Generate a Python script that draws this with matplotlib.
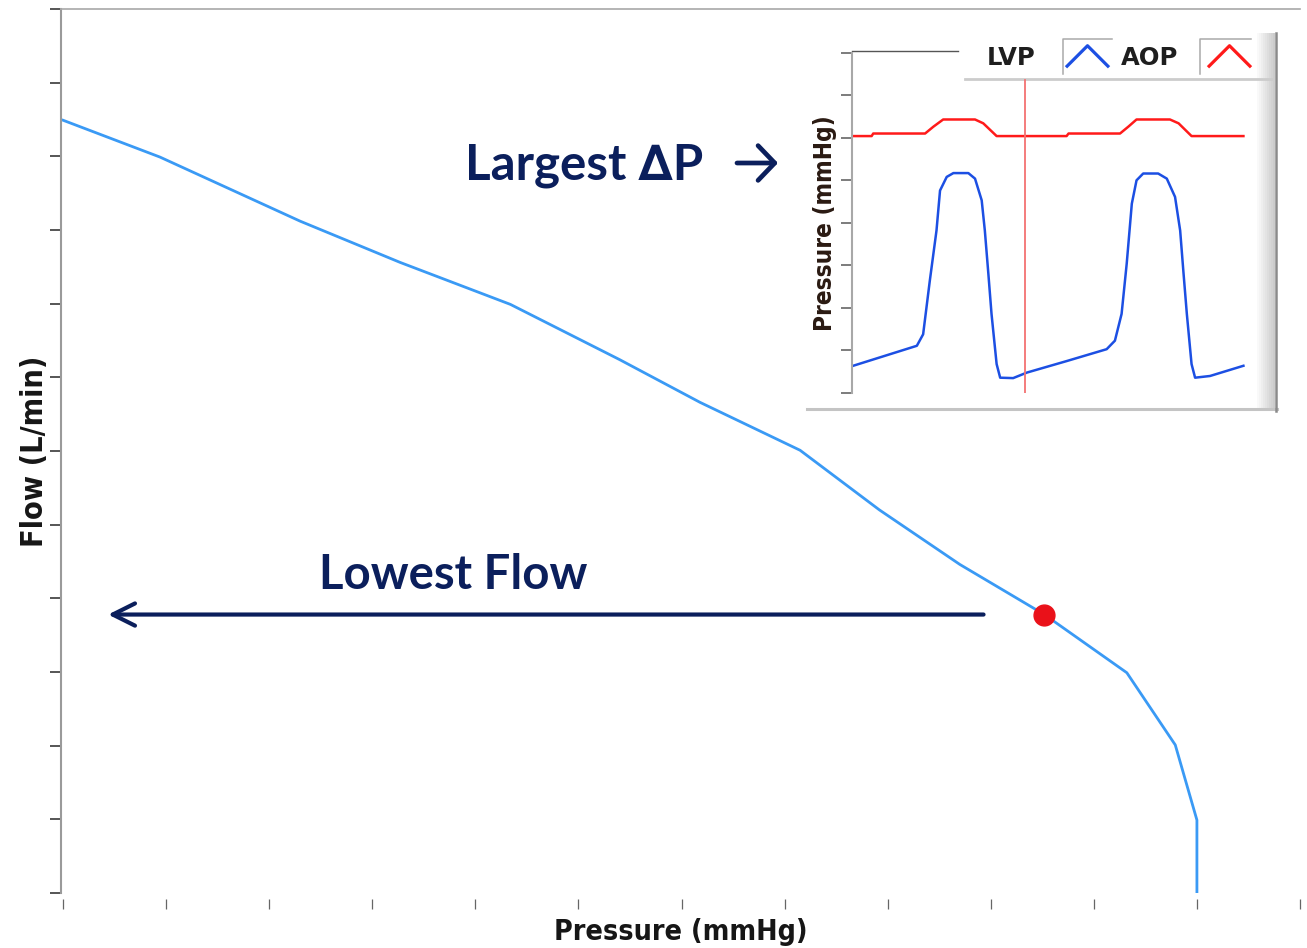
import numpy as np
import matplotlib
matplotlib.use("Agg")
import matplotlib.pyplot as plt
from matplotlib.path import Path
from matplotlib.lines import Line2D
from matplotlib.patches import Rectangle, FancyArrowPatch

# main pump curve (axis units = tick spacings, no tick labels in the original)
pressure = [0.0, 0.94, 2.30, 3.27, 4.34, 5.40, 6.18, 7.15, 7.92, 8.70, 9.52, 10.32, 10.79, 11.0, 11.0]
flow = [10.49, 9.99, 9.12, 8.56, 7.99, 7.24, 6.66, 6.01, 5.20, 4.46, 3.78, 2.99, 2.01, 0.99, 0.0]
op_pressure = 9.52
op_flow = 3.78

# inset waveforms
lvp_t = [0.003, 0.165, 0.181, 0.198, 0.215, 0.224, 0.241, 0.258, 0.296, 0.313, 0.330, 0.338,
         0.347, 0.355, 0.368, 0.377, 0.410, 0.445, 0.546, 0.648, 0.669, 0.686, 0.699, 0.712,
         0.724, 0.741, 0.779, 0.801, 0.822, 0.835, 0.843, 0.852, 0.864, 0.873, 0.911, 0.996]
lvp_p = [0.64, 1.11, 1.38, 2.64, 3.82, 4.76, 5.08, 5.17, 5.17, 5.04, 4.53, 3.82,
         2.80, 1.86, 0.68, 0.36, 0.35, 0.48, 0.75, 1.03, 1.23, 1.86, 3.04, 4.45,
         5.00, 5.16, 5.16, 5.04, 4.61, 3.82, 2.88, 1.86, 0.68, 0.36, 0.40, 0.64]
aop_t = [0.003, 0.050, 0.054, 0.186, 0.207, 0.232, 0.313, 0.334, 0.368, 0.546, 0.551,
         0.682, 0.703, 0.724, 0.809, 0.831, 0.864, 0.996]
aop_p = [6.04, 6.04, 6.10, 6.10, 6.26, 6.43, 6.43, 6.34, 6.04, 6.04, 6.10,
         6.10, 6.26, 6.43, 6.43, 6.34, 6.04, 6.04]
cursor_t = 0.44

W, H = 1307, 948
navy = '#0b1f5c'
label_font = dict(family='DejaVu Sans', weight='bold', stretch='condensed', color='#161616')
anno_font = dict(family=['Lato', 'DejaVu Sans'], weight='bold', color=navy)


def px(x, y):
    return x / W, 1 - y / H


def fig_line(fig, xs, ys, color, lw, z=2):
    fx = [x / W for x in xs]
    fy = [1 - y / H for y in ys]
    fig.add_artist(Line2D(fx, fy, color=color, lw=lw, transform=fig.transFigure, zorder=z))


fig = plt.figure(figsize=(W / 100, H / 100), dpi=100)

"###################### main curve ######################"
ax = fig.add_axes([61 / W, 1 - 893 / H, (1300 - 61) / W, (893 - 9) / H])
ax.set_xlim(-0.02, 12)
ax.set_ylim(0, 12)
ax.set_xticks(range(13))
ax.set_yticks(range(13))
ax.set_xticklabels([])
ax.set_yticklabels([])
ax.spines['right'].set_visible(False)
ax.spines['bottom'].set_visible(False)
ax.spines['bottom'].set_position(('outward', 4.3))
ax.spines['left'].set_color('#9a9a9a')
ax.spines['left'].set_linewidth(1.5)
ax.spines['top'].set_color('#a8a8a8')
ax.spines['top'].set_linewidth(1.2)
ax.tick_params(axis='y', direction='out', length=8, width=1.4, color='#555555')
ax.tick_params(axis='x', direction='out', length=7, width=0.9, color='#666666')

ax.plot(pressure, flow, color='#3a9af5', lw=2.0)
ax.plot(op_pressure, op_flow, 'o', ms=15, color='#ea1119', zorder=5)

ax.set_xlabel('Pressure (mmHg)', fontsize=20.5, labelpad=3, **label_font)
ax.set_ylabel('Flow (L/min)', fontsize=22, labelpad=-3, **label_font)

ax.annotate('', xy=(0.437, op_flow), xytext=(8.93, op_flow),
            arrowprops=dict(arrowstyle='->,head_length=1.6,head_width=0.8', lw=3, color=navy,
                            shrinkA=0, shrinkB=0))
ax.text(3.78, 4.12, 'Lowest Flow', fontsize=34, ha='center', va='baseline', **anno_font)

fig.text(*px(465, 180), 'Largest \u2206P', fontsize=35.5, ha='left', va='baseline', **anno_font)
fig.add_artist(FancyArrowPatch(
    px(737, 163), px(778, 163), transform=fig.transFigure,
    arrowstyle='->,head_length=1.2,head_width=1.25', mutation_scale=10, lw=3.4, color=navy,
    shrinkA=0, shrinkB=0))

"###################### inset panel ######################"
fig.add_artist(Rectangle(px(805, 410), 472 / W, 377 / H, transform=fig.transFigure,
                         facecolor='white', edgecolor='none', zorder=1))
shades = np.linspace(1.0, 0.80, 10)
for i, s in enumerate(shades):
    fig.add_artist(Rectangle(px(1255 + i * 2, 410), 2 / W, 377 / H, transform=fig.transFigure,
                             facecolor=(s, s, s), edgecolor='none', zorder=1.5))
fig_line(fig, [807, 1277], [409, 409], '#c4c4c4', 2.2)
fig_line(fig, [1276, 1276], [33, 411], '#8a8a8a', 1.8)
fig_line(fig, [965, 1272], [79, 79], '#cccccc', 2.0)
fig_line(fig, [852, 958], [50.5, 50.5], '#555555', 1.0)
fig_line(fig, [1063, 1063, 1112], [74, 39, 39], '#aaaaaa', 1.1)
fig_line(fig, [1200, 1200, 1251], [74, 39, 39], '#aaaaaa', 1.1)

axi = fig.add_axes([852 / W, 1 - 393 / H, 393 / W, (393 - 52.7) / H], zorder=3)
axi.patch.set_alpha(0)
axi.set_xlim(0, 1)
axi.set_ylim(0, 8)
axi.set_xticks([])
axi.set_yticks(range(9))
axi.set_yticklabels([])
for s in ['top', 'right', 'bottom']:
    axi.spines[s].set_visible(False)
axi.spines['left'].set_color('#a8a8a8')
axi.spines['left'].set_linewidth(1.5)
axi.tick_params(axis='y', direction='out', length=8, width=1.2, color='#666666')

axi.plot(lvp_t, lvp_p, color='#1c4fe3', lw=1.8)
axi.plot(aop_t, aop_p, color='#ff1a1a', lw=1.8)
axi.axvline(cursor_t, ymin=0, ymax=(393 - 80) / (393 - 52.7), color='#f37272', lw=1.3)
axi.set_ylabel('Pressure (mmHg)', fontsize=17.5, labelpad=-1,
               family='DejaVu Sans', weight='bold', stretch='condensed', color='#2a1a12')

chevron = Path([(-1, -0.5), (0, 0.5), (1, -0.5)], [Path.MOVETO, Path.LINETO, Path.LINETO])
handles = [Line2D([], [], ls='none', marker=chevron, ms=31, mfc='none', mec='#1c4fe3', mew=2.3),
           Line2D([], [], ls='none', marker=chevron, ms=31, mfc='none', mec='#ff1a1a', mew=2.3)]
axi.legend(handles, ['LVP', 'AOP'], loc='center', bbox_to_anchor=px(1119, 58),
           bbox_transform=fig.transFigure, ncol=2, markerfirst=False, frameon=False,
           handlelength=1.8, handletextpad=1.2, columnspacing=0.5, borderpad=0,
           prop=dict(family='DejaVu Sans', weight='bold', size=17.5))
for t in axi.get_legend().get_texts():
    t.set_color('#1e1e1e')

fig.savefig('out.png', dpi=100)
